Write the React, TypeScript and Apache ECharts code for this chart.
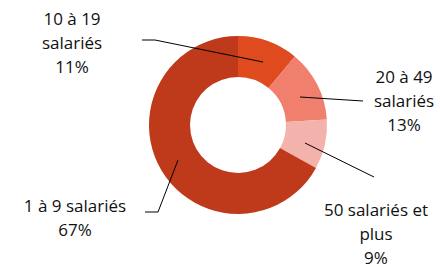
import React, { useEffect, useRef } from "react";
import * as echarts from "echarts";

const categories = ["10 à 19\nsalariés", "20 à 49\nsalariés", "50 salariés et\nplus", "1 à 9 salariés"];
const values = [11, 13, 9, 67];
const colors = ["#E04A1F", "#F07F6E", "#F4B2AC", "#BE3A1A"];

// label anchor (center) and leader line points
const labelPos: [number, number][] = [[72, 42], [404, 100], [376, 233], [75, 217]];
const linePts: [number, number][][] = [
  [[263, 62], [155, 40], [142, 40]],
  [[300, 97], [363, 101]],
  [[305, 143], [374, 177]],
  [[178, 160], [158, 212], [145, 212]],
];

export default function App() {
  const ref = useRef<HTMLDivElement>(null);
  useEffect(() => {
    document.body.style.margin = "0";
    const chart = echarts.init(ref.current!, null, { renderer: "svg" });
    chart.setOption({
      animation: false,
      backgroundColor: "#fff",
      graphic: linePts.map((pts) => ({
        type: "polyline",
        z: 100,
        silent: true,
        shape: { points: pts },
        style: { stroke: "#000", lineWidth: 1, fill: null },
      })),
      series: [
        {
          type: "pie",
          center: [238, 125],
          radius: [48, 89],
          startAngle: 90,
          clockwise: true,
          data: categories.map((c, i) => ({ name: c, value: values[i], itemStyle: { color: colors[i] } })),
          label: {
            show: true,
            formatter: (p: any) => p.name + "\n" + p.value + "%",
            fontFamily: "Open Sans",
            fontSize: 17,
            lineHeight: 24,
            color: "#111",
            align: "center",
            overflow: "none",
            width: 200,
          },
          labelLine: { show: false },
          labelLayout: (params: any) => {
            const i = params.dataIndex;
            return {
              x: labelPos[i][0],
              y: labelPos[i][1],
              align: "center",
              verticalAlign: "middle",
              hideOverlap: false,
            };
          },
        },
      ],
    });
    return () => chart.dispose();
  }, []);
  return <div ref={ref} style={{ width: 440, height: 267 }} />;
}
